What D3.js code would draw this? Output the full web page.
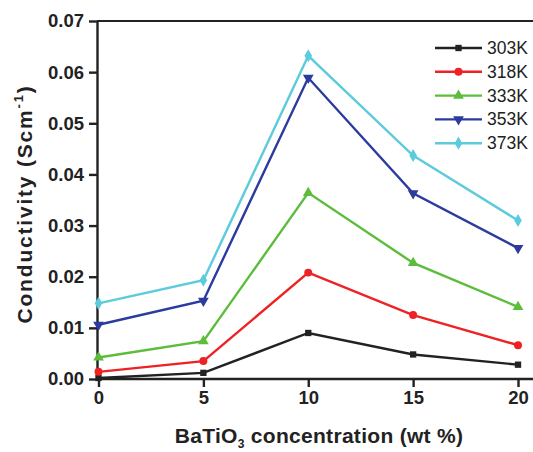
<!DOCTYPE html>
<html>
<head>
<meta charset="utf-8">
<script src="https://cdn.jsdelivr.net/npm/d3@7"></script>
<style>
  body { margin: 0; background: #fff; }
  svg { font-family: "Liberation Sans", Arial, sans-serif; }
</style>
</head>
<body>
<div id="chart"></div>
<script>
const concentrations = [0, 5, 10, 15, 20];
const seriesNames = ['303K', '318K', '333K', '353K', '373K'];
const s303 = [0.0002, 0.0012, 0.0090, 0.0048, 0.0028];
const s318 = [0.0014, 0.0035, 0.0208, 0.0125, 0.0066];
const s333 = [0.0042, 0.0074, 0.0364, 0.0227, 0.0141];
const s353 = [0.0106, 0.0153, 0.0589, 0.0363, 0.0256];
const s373 = [0.0148, 0.0193, 0.0632, 0.0437, 0.0310];
const xTicks = [0, 5, 10, 15, 20];
const yTicks = [0, 0.01, 0.02, 0.03, 0.04, 0.05, 0.06, 0.07];

const seriesValues = [s303, s318, s333, s353, s373];
const colors = ['#222222', '#ee2224', '#5bbd3b', '#2b3b9e', '#5ccbdb'];
const symbols = [d3.symbolSquare, d3.symbolCircle, d3.symbolTriangle, d3.symbolTriangle, d3.symbolDiamond];
const symbolRotate = [0, 0, 0, 180, 0];
const symbolSize = [40, 50, 50, 50, 50];

const width = 533, height = 452;
const margin = { top: 21, left: 97 };
const plotBottom = 379;

const svg = d3.select('#chart').append('svg')
    .attr('width', width)
    .attr('height', height);

const x = d3.scaleLinear().domain([0, 20]).range([98.5, 518]);
const y = d3.scaleLinear().domain([0, 0.07]).range([plotBottom, margin.top]);

// top frame line (right side is cut off in the original)
svg.append('line')
    .attr('x1', margin.left).attr('x2', width + 5)
    .attr('y1', margin.top).attr('y2', margin.top)
    .attr('stroke', '#222').attr('stroke-width', 2.2);

const xAxis = svg.append('g')
    .attr('transform', `translate(0, ${plotBottom})`)
    .call(d3.axisBottom(x).tickValues(xTicks).tickSize(8).tickPadding(4).tickSizeOuter(0));
xAxis.select('.domain').attr('d', `M${margin.left},0H${width + 5}`);

const yAxis = svg.append('g')
    .attr('transform', `translate(${margin.left}, 0)`)
    .call(d3.axisLeft(y).tickValues(yTicks).tickFormat(d3.format('.2f')).tickSize(8).tickPadding(5).tickSizeOuter(0));

[xAxis, yAxis].forEach(a => {
    a.select('.domain').attr('stroke', '#222').attr('stroke-width', 2.4);
    a.selectAll('.tick line').attr('stroke', '#222').attr('stroke-width', 2.4);
    a.selectAll('.tick text')
        .attr('fill', '#222')
        .style('font-size', '18.5px')
        .style('font-weight', 'bold');
});

// axis titles
svg.append('text')
    .attr('transform', `translate(32, 204) rotate(-90)`)
    .attr('text-anchor', 'middle')
    .style('font-size', '21px')
    .style('font-weight', 'bold')
    .style('letter-spacing', '1.8px')
    .attr('fill', '#222')
    .html('Conductivity (Scm<tspan dy="-9" font-size="13">-1</tspan><tspan dy="9">)</tspan>');

svg.append('text')
    .attr('x', 319)
    .attr('y', 443)
    .attr('text-anchor', 'middle')
    .style('font-size', '21px')
    .style('font-weight', 'bold')
    .style('letter-spacing', '0.3px')
    .attr('fill', '#222')
    .html('BaTiO<tspan dy="5" font-size="12">3</tspan><tspan dy="-5"> concentration (wt %)</tspan>');

const line = d3.line()
    .x((d, i) => x(concentrations[i]))
    .y(d => y(d));

seriesValues.forEach((vals, k) => {
    svg.append('path')
        .datum(vals)
        .attr('d', line)
        .attr('fill', 'none')
        .attr('stroke', colors[k])
        .attr('stroke-width', 2.4);

    svg.selectAll(null)
        .data(vals)
        .enter()
        .append('path')
        .attr('d', d3.symbol().type(symbols[k]).size(symbolSize[k]))
        .attr('transform', (d, i) => `translate(${x(concentrations[i])}, ${y(d)}) rotate(${symbolRotate[k]})`)
        .attr('fill', colors[k]);
});

// legend
const legend = svg.append('g').attr('transform', 'translate(435, 48)');
seriesNames.forEach((name, k) => {
    const g = legend.append('g').attr('transform', `translate(0, ${k * 23.8})`);
    g.append('line')
        .attr('x1', 0).attr('x2', 47)
        .attr('stroke', colors[k]).attr('stroke-width', 2.4);
    g.append('path')
        .attr('d', d3.symbol().type(symbols[k]).size(symbolSize[k]))
        .attr('transform', `translate(23.5, 0) rotate(${symbolRotate[k]})`)
        .attr('fill', colors[k]);
    g.append('text')
        .attr('x', 52)
        .attr('y', 6)
        .style('font-size', '17.5px')
        .attr('fill', '#222')
        .text(name);
});
</script>
</body>
</html>
